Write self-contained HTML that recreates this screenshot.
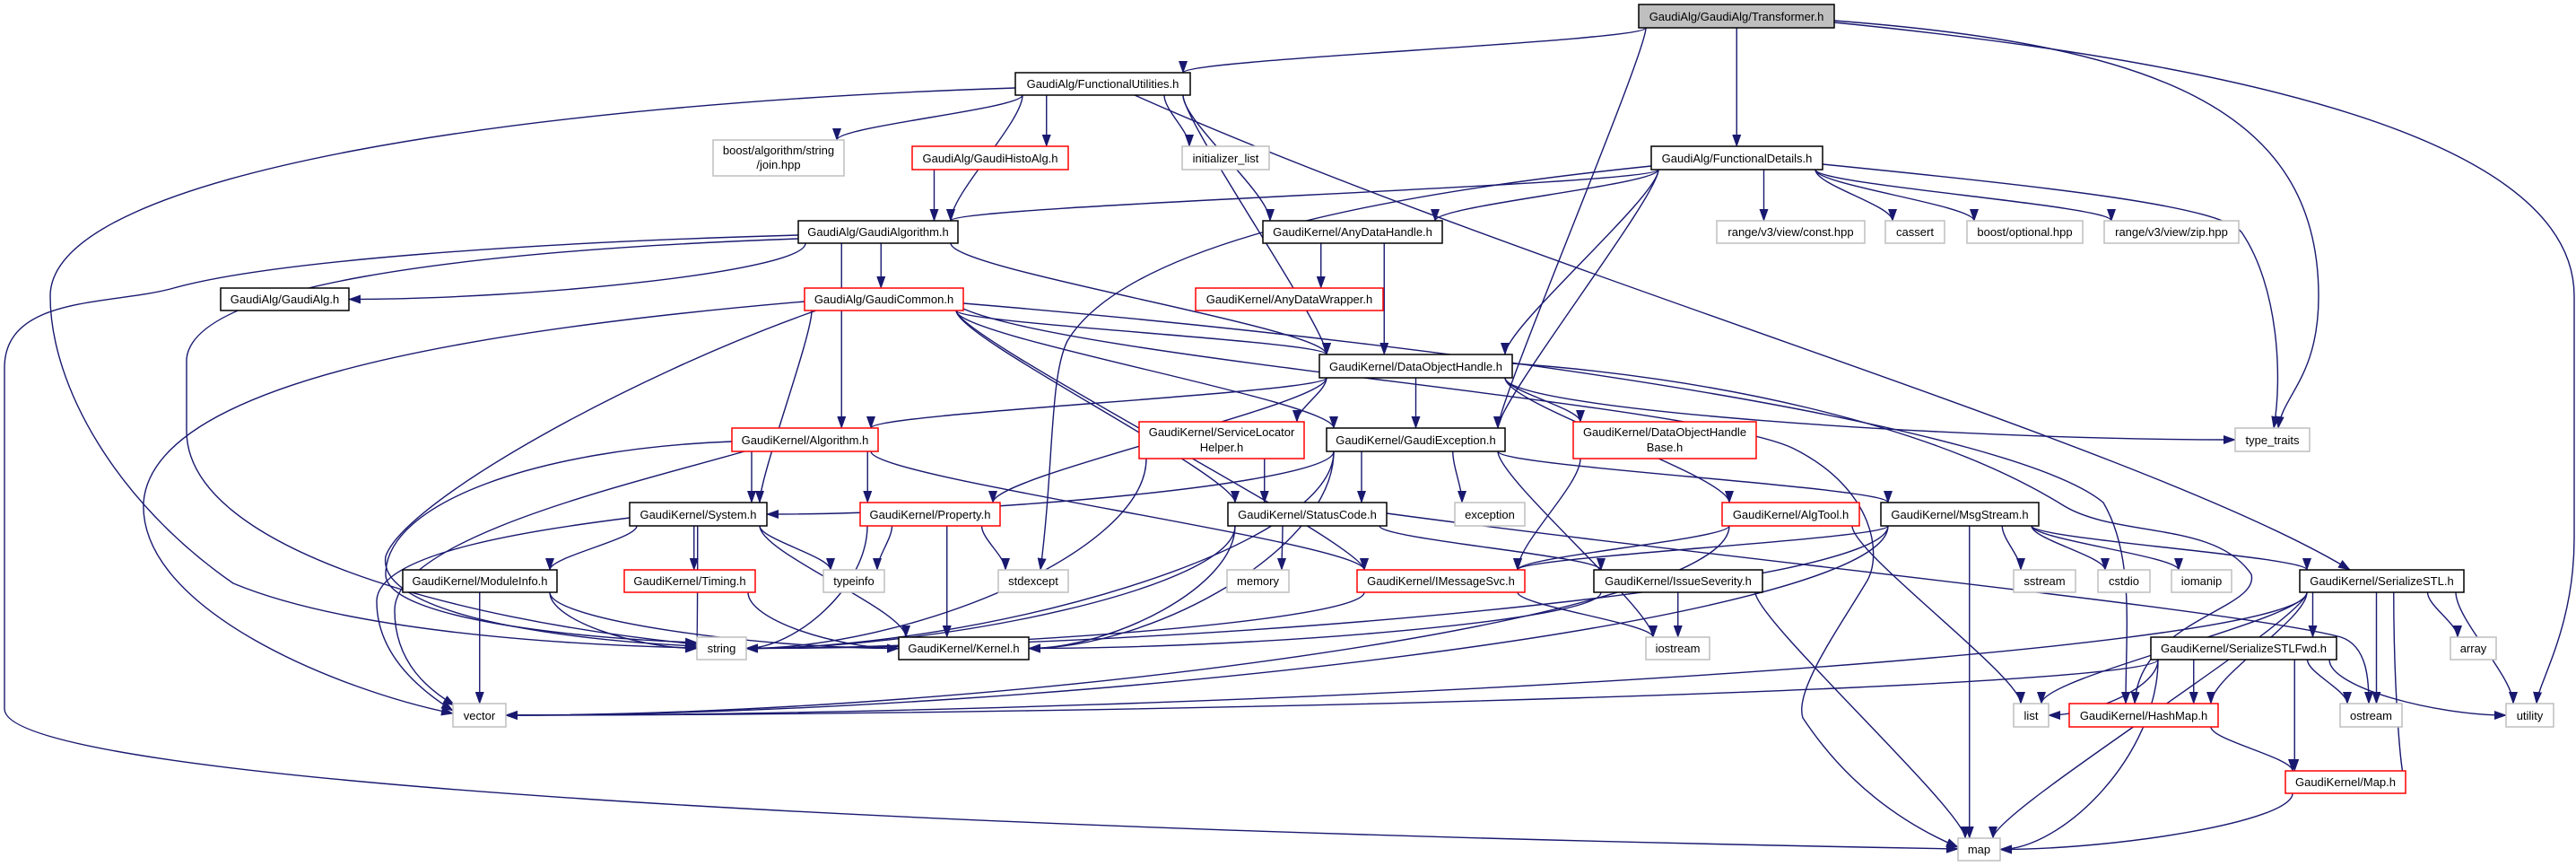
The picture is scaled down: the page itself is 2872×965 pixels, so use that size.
<!DOCTYPE html>
<html><head><meta charset="utf-8">
<style>
html,body{margin:0;padding:0;background:#fff;}
svg{display:block;}
text{font-family:"Liberation Sans",Arial,sans-serif;font-size:13px;fill:#000;text-anchor:middle;}
.b{fill:#fff;stroke:#000;stroke-width:1.5}
.r{fill:#fff;stroke:#ff0000;stroke-width:1.5}
.g{fill:#fff;stroke:#bfbfbf;stroke-width:1.5}
.f{fill:#bfbfbf;stroke:#000;stroke-width:1.5}
.e{fill:none;stroke:#191970;stroke-width:1.4}
</style></head>
<body>
<svg id="s" width="2872" height="965" viewBox="0 0 2872 965" xmlns="http://www.w3.org/2000/svg">
<defs><marker id="a" markerWidth="14" markerHeight="10" refX="13" refY="5" orient="auto" markerUnits="userSpaceOnUse"><path d="M0,0 L14,5 L0,10 z" fill="#191970"/></marker></defs>
<g id="edges"></g>
<g id="nodes">
<rect class="f" x="1827" y="5" width="218" height="26"/><text x="1936" y="23">GaudiAlg/GaudiAlg/Transformer.h</text>
<rect class="b" x="1132" y="81" width="195" height="25"/><text x="1229.5" y="98">GaudiAlg/FunctionalUtilities.h</text>
<rect class="g" x="795" y="156" width="146" height="40"/><text x="868" y="172">boost/algorithm/string</text><text x="868" y="188">/join.hpp</text>
<rect class="r" x="1017" y="163" width="174" height="26"/><text x="1104" y="181">GaudiAlg/GaudiHistoAlg.h</text>
<rect class="g" x="1318" y="163" width="97" height="26"/><text x="1366.5" y="181">initializer_list</text>
<rect class="b" x="1841" y="163" width="191" height="26"/><text x="1936.5" y="181">GaudiAlg/FunctionalDetails.h</text>
<rect class="b" x="890" y="246" width="178" height="25"/><text x="979" y="263">GaudiAlg/GaudiAlgorithm.h</text>
<rect class="b" x="246" y="321" width="143" height="25"/><text x="317.5" y="338">GaudiAlg/GaudiAlg.h</text>
<rect class="b" x="1408" y="246" width="200" height="25"/><text x="1508" y="263">GaudiKernel/AnyDataHandle.h</text>
<rect class="g" x="1914" y="246" width="165" height="25"/><text x="1996.5" y="263">range/v3/view/const.hpp</text>
<rect class="g" x="2102" y="246" width="66" height="25"/><text x="2135" y="263">cassert</text>
<rect class="g" x="2193" y="246" width="129" height="25"/><text x="2257.5" y="263">boost/optional.hpp</text>
<rect class="g" x="2346" y="246" width="150" height="25"/><text x="2421" y="263">range/v3/view/zip.hpp</text>
<rect class="r" x="897" y="321" width="177" height="25"/><text x="985.5" y="338">GaudiAlg/GaudiCommon.h</text>
<rect class="r" x="1333" y="321" width="209" height="25"/><text x="1437.5" y="338">GaudiKernel/AnyDataWrapper.h</text>
<rect class="b" x="1471" y="395" width="215" height="26"/><text x="1578.5" y="413">GaudiKernel/DataObjectHandle.h</text>
<rect class="g" x="2492" y="477" width="83" height="26"/><text x="2533.5" y="495">type_traits</text>
<rect class="r" x="816" y="477" width="163" height="26"/><text x="897.5" y="495">GaudiKernel/Algorithm.h</text>
<rect class="r" x="1270" y="470" width="184" height="41"/><text x="1362" y="486">GaudiKernel/ServiceLocator</text><text x="1362" y="503">Helper.h</text>
<rect class="b" x="1479" y="477" width="199" height="26"/><text x="1578.5" y="495">GaudiKernel/GaudiException.h</text>
<rect class="r" x="1754" y="470" width="204" height="41"/><text x="1856" y="486">GaudiKernel/DataObjectHandle</text><text x="1856" y="503">Base.h</text>
<rect class="r" x="959" y="560" width="156" height="26"/><text x="1037" y="578">GaudiKernel/Property.h</text>
<rect class="b" x="702" y="560" width="153" height="26"/><text x="778.5" y="578">GaudiKernel/System.h</text>
<rect class="b" x="1369" y="560" width="177" height="26"/><text x="1457.5" y="578">GaudiKernel/StatusCode.h</text>
<rect class="g" x="1622" y="560" width="78" height="26"/><text x="1661" y="578">exception</text>
<rect class="r" x="1920" y="560" width="153" height="26"/><text x="1996.5" y="578">GaudiKernel/AlgTool.h</text>
<rect class="b" x="2097" y="560" width="176" height="26"/><text x="2185" y="578">GaudiKernel/MsgStream.h</text>
<rect class="b" x="449" y="635" width="172" height="25"/><text x="535" y="652">GaudiKernel/ModuleInfo.h</text>
<rect class="r" x="696" y="635" width="146" height="25"/><text x="769" y="652">GaudiKernel/Timing.h</text>
<rect class="g" x="918" y="635" width="68" height="25"/><text x="952" y="652">typeinfo</text>
<rect class="g" x="1113" y="635" width="78" height="25"/><text x="1152" y="652">stdexcept</text>
<rect class="g" x="1368" y="635" width="69" height="25"/><text x="1402.5" y="652">memory</text>
<rect class="r" x="1513" y="635" width="187" height="25"/><text x="1606.5" y="652">GaudiKernel/IMessageSvc.h</text>
<rect class="b" x="1777" y="635" width="188" height="25"/><text x="1871" y="652">GaudiKernel/IssueSeverity.h</text>
<rect class="g" x="2245" y="635" width="69" height="25"/><text x="2279.5" y="652">sstream</text>
<rect class="g" x="2339" y="635" width="58" height="25"/><text x="2368" y="652">cstdio</text>
<rect class="g" x="2421" y="635" width="67" height="25"/><text x="2454.5" y="652">iomanip</text>
<rect class="b" x="2564" y="635" width="183" height="25"/><text x="2655.5" y="652">GaudiKernel/SerializeSTL.h</text>
<rect class="g" x="777" y="710" width="55" height="25"/><text x="804.5" y="727">string</text>
<rect class="b" x="1002" y="710" width="145" height="25"/><text x="1074.5" y="727">GaudiKernel/Kernel.h</text>
<rect class="g" x="1835" y="710" width="71" height="25"/><text x="1870.5" y="727">iostream</text>
<rect class="b" x="2398" y="710" width="207" height="25"/><text x="2501.5" y="727">GaudiKernel/SerializeSTLFwd.h</text>
<rect class="g" x="2732" y="710" width="51" height="25"/><text x="2757.5" y="727">array</text>
<rect class="g" x="505" y="784" width="59" height="26"/><text x="534.5" y="802">vector</text>
<rect class="g" x="2245" y="784" width="39" height="26"/><text x="2264.5" y="802">list</text>
<rect class="r" x="2307" y="784" width="166" height="26"/><text x="2390" y="802">GaudiKernel/HashMap.h</text>
<rect class="g" x="2609" y="784" width="69" height="26"/><text x="2643.5" y="802">ostream</text>
<rect class="g" x="2794" y="784" width="53" height="26"/><text x="2820.5" y="802">utility</text>
<rect class="r" x="2548" y="859" width="134" height="25"/><text x="2615" y="876">GaudiKernel/Map.h</text>
<rect class="g" x="2183" y="934" width="47" height="25"/><text x="2206.5" y="951">map</text>
</g>
</svg>
<script>
var N={T:[1827,5,2045,31],FU:[1132,81,1327,106],JOIN:[795,156,941,196],GHA:[1017,163,1191,189],IL:[1318,163,1415,189],FD:[1841,163,2032,189],GA:[890,246,1068,271],GAH:[246,321,389,346],ADH:[1408,246,1608,271],RC:[1914,246,2079,271],CA:[2102,246,2168,271],BO:[2193,246,2322,271],RZ:[2346,246,2496,271],GC:[897,321,1074,346],ADW:[1333,321,1542,346],DOH:[1471,395,1686,421],TT:[2492,477,2575,503],ALG:[816,477,979,503],SLH:[1270,470,1454,511],GE:[1479,477,1678,503],DOHB:[1754,470,1958,511],PR:[959,560,1115,586],SYS:[702,560,855,586],SC:[1369,560,1546,586],EX:[1622,560,1700,586],AT:[1920,560,2073,586],MS:[2097,560,2273,586],MI:[449,635,621,660],TI:[696,635,842,660],TY:[918,635,986,660],SE:[1113,635,1191,660],ME:[1368,635,1437,660],IMS:[1513,635,1700,660],IS:[1777,635,1965,660],SS:[2245,635,2314,660],CS:[2339,635,2397,660],IO:[2421,635,2488,660],SER:[2564,635,2747,660],STR:[777,710,832,735],KER:[1002,710,1147,735],IOS:[1835,710,1906,735],SF:[2398,710,2605,735],AR:[2732,710,2783,735],VEC:[505,784,564,810],LI:[2245,784,2284,810],HM:[2307,784,2473,810],OS:[2609,784,2678,810],UT:[2794,784,2847,810],MAP:[2548,859,2682,884],MP:[2183,934,2230,959]};
var E=[
"T FU","T FD","T GE",
"FU JOIN","FU GHA","FU GA","FU IL","FU ADH","FU DOH",
"GHA GA",
"FD GA","FD ADH","FD DOH","FD GE","FD RC","FD CA","FD BO","FD RZ",
"GA GAH R","GA GC","GA DOH","GA ALG",
"ADH ADW","ADH DOH",
"GC DOH","GC GE","GC SYS","GC SC","GC IMS",
"DOH ALG","DOH SLH","DOH GE","DOH DOHB","DOH AT","DOH PR","DOH TT L",
"ALG SYS","ALG PR","ALG IMS",
"SLH SC","SLH STR R",
"GE SYS R","GE SC","GE EX","GE MS","GE KER R","GE STR R","GE IOS",
"DOHB IMS",
"PR TY","PR SE","PR KER","PR STR R",
"SYS MI","SYS TI","SYS TY","SYS STR L","SYS KER",
"SC ME","SC IS","SC KER R","SC STR R",
"AT IMS","AT LI","AT VEC R",
"MS IMS","MS SS","MS CS","MS IO","MS SER","MS STR R","MS VEC R","MS MP",
"MI STR L","MI KER L","MI VEC",
"TI KER L",
"IMS STR R","IMS IOS",
"IS IOS","IS MP","IS KER R",
"SER SF","SER AR","SER UT","SER OS","SER LI","SER HM","SER MAP R","SER VEC R","SER MP",
"SF LI R","SF HM","SF OS","SF UT L","SF MAP","SF MP R","SF VEC R",
"HM MAP","MAP MP R"];
var C=[
"M1132,98 C600,115 56,190 56,330 C56,430 130,560 260,650 C380,700 600,718 777,722",
"M890,262 C600,270 300,290 190,322 C120,340 5,330 5,410 L5,790 C5,870 1000,925 2183,946",
"M890,266 C500,280 215,320 208,400 L208,480 C208,610 500,690 777,718",
"M897,336 C500,370 170,430 160,560 C155,680 380,770 505,795",
"M910,346 C700,420 450,560 430,620 C420,680 600,712 777,720",
"M816,492 C600,500 430,560 430,640 C430,690 650,712 777,716",
"M830,503 C700,540 440,600 440,680 C440,740 480,770 507,786",
"M702,577 C600,590 420,615 420,670 C420,730 470,770 505,792",
"M1074,338 C1700,390 2250,480 2345,560 C2380,620 2370,700 2370,784",
"M1686,405 C1900,420 2150,470 2300,563 C2360,600 2470,580 2510,640 C2520,680 2385,690 2380,784",
"M2045,23 C2400,50 2585,120 2585,330 C2585,420 2545,440 2540,477",
"M2045,25 C2600,80 2870,180 2870,330 L2870,600 C2870,700 2830,760 2828,784",
"M2032,183 C2300,210 2480,230 2500,260 C2540,320 2545,420 2535,477",
"M1841,185 C1500,220 1250,280 1190,380 C1170,420 1175,520 1160,635",
"M1265,106 C1700,300 2400,500 2620,635",
"M1546,572 C1900,620 2500,680 2610,710 C2640,720 2641,760 2641,784",
"M1074,344 C1200,400 1900,450 2000,500 C2090,545 2100,620 2080,650 C2050,700 2000,770 2010,800 C2030,830 2080,900 2183,944"
];
var ns="http://www.w3.org/2000/svg",g=document.getElementById("edges");
function add(d){var p=document.createElementNS(ns,"path");p.setAttribute("d",d);p.setAttribute("class","e");p.setAttribute("marker-end","url(#a)");g.appendChild(p);}
function cl(v,a,b){return Math.max(a,Math.min(b,v));}
E.forEach(function(e){var q=e.split(" "),s=N[q[0]],t=N[q[1]],f=q[2];
var sc=(s[0]+s[2])/2,tc=(t[0]+t[2])/2;
if(!f){var sx=cl(sc+(tc-sc)*0.5,s[0]+8,s[2]-8),sy=s[3],tx=cl(tc+(sc-tc)*0.5,t[0]+8,t[2]-8),ty=t[1];
var k=Math.min((ty-sy)*0.3,30);add("M"+sx+","+sy+" C"+sx+","+(sy+k)+" "+tx+","+(ty-k)+" "+tx+","+ty);}
else{var tx=f=="R"?t[2]:t[0],ty=(t[1]+t[3])/2;var sx=cl(sc+(tx-sc)*0.5,s[0]+8,s[2]-8),sy=s[3];
if(ty<sy){sy=(s[1]+s[3])/2;sx=f=="R"?s[0]:s[2];}
var dx=(sx-tx);add("M"+sx+","+sy+" C"+sx+","+(sy+(ty-sy)*0.5)+" "+(tx+dx*0.4)+","+ty+" "+tx+","+ty);}
});
C.forEach(add);
</script>
</body></html>
